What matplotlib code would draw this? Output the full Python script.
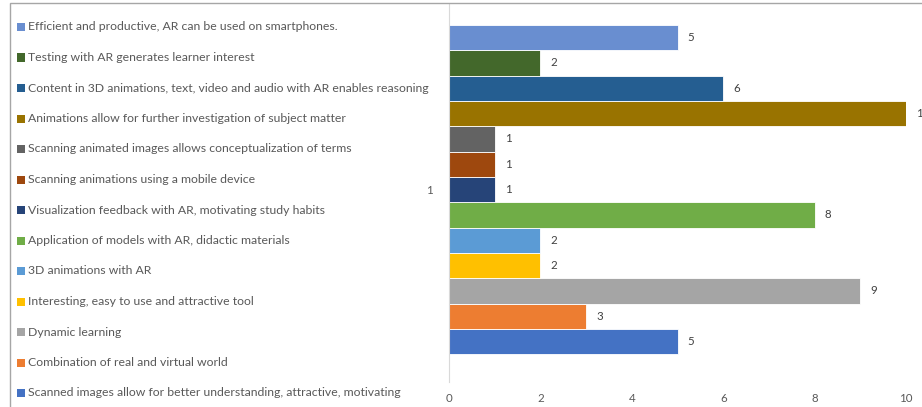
import matplotlib
matplotlib.use('Agg')
import matplotlib.pyplot as plt
from matplotlib.patches import Rectangle

plt.rcParams['font.family'] = ['Lato', 'DejaVu Sans']

# series, bottom bar first
labels = [
    'Scanned images allow for better understanding, attractive, motivating',
    'Combination of real and virtual world',
    'Dynamic learning',
    'Interesting, easy to use and attractive tool',
    '3D animations with AR',
    'Application of models with AR, didactic materials',
    'Visualization feedback with AR, motivating study habits',
    'Scanning animations using a mobile device',
    'Scanning animated images allows conceptualization of terms',
    'Animations allow for further investigation of subject matter',
    'Content in 3D animations, text, video and audio with AR enables reasoning',
    'Testing with AR generates learner interest',
    'Efficient and productive, AR can be used on smartphones.',
]
values = [5, 3, 9, 2, 2, 8, 1, 1, 1, 10, 6, 2, 5]
colors = ['#4472C4', '#ED7D31', '#A5A5A5', '#FFC000', '#5B9BD5', '#70AD47',
          '#264478', '#9E480E', '#636363', '#997300', '#255E91', '#43682B', '#698ED0']
category = '1'
xticks = [0, 2, 4, 6, 8, 10]

W, H = 922, 407
fig = plt.figure(figsize=(W / 100, H / 100), dpi=100)

# chart frame
fig.patches.append(Rectangle((10 / W, -0.1), 1.1, 1 - 3 / H + 0.1, transform=fig.transFigure,
                             fill=False, edgecolor='#a6a6a6', linewidth=1.0))

ax = fig.add_axes([449 / W, 1 - 382 / H, (906 - 449) / W, (382 - 4) / H])
n = len(values)
pos = [i - (n - 1) / 2 for i in range(n)]
bars = ax.barh(pos, values, height=1.0, color=colors, edgecolor='white', linewidth=0.6)

for p, v in zip(pos, values):
    ax.text(v + 0.22, p, str(v), va='center', ha='left', fontsize=8.3, color='#404040', clip_on=False)

ax.set_xlim(0, 10)
ax.set_ylim(-7.6, 7.33)
ax.set_xticks(xticks)
ax.set_yticks([0])
ax.set_yticklabels([category])
ax.tick_params(axis='both', length=0, labelsize=8.3, labelcolor='#595959')
ax.tick_params(axis='x', pad=8)
ax.tick_params(axis='y', pad=12)
for s in ['top', 'right', 'bottom']:
    ax.spines[s].set_visible(False)
ax.spines['left'].set_color('#d9d9d9')

# legend, top entry = last series
for k, i in enumerate(range(n - 1, -1, -1)):
    yc = 27 + k * 30.5
    fig.patches.append(Rectangle((17 / W, 1 - (yc + 4) / H), 8 / W, 8 / H,
                                 transform=fig.transFigure, facecolor=colors[i], edgecolor='none'))
    fig.text(28 / W, 1 - yc / H, labels[i], va='center', ha='left', fontsize=8.8, color='#595959')

fig.savefig('out.png', dpi=100)
